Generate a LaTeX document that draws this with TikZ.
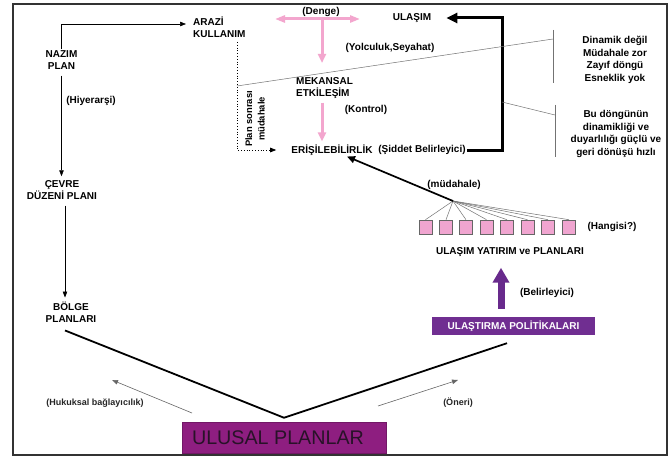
\documentclass[tikz,border=0pt]{standalone}
\usepackage{fontspec}
\setmainfont{Liberation Sans}
\usetikzlibrary{arrows.meta}
\definecolor{pinkA}{RGB}{243,166,206}
\definecolor{boxpink}{RGB}{240,165,208}
\definecolor{purpA}{RGB}{104,42,140}
\definecolor{polfill}{RGB}{112,46,145}
\definecolor{ulfill}{RGB}{142,30,128}
\definecolor{ultext}{RGB}{40,18,40}
\tikzset{
  lbl/.style={font=\bfseries\fontsize{10}{12}\selectfont, inner sep=1pt, align=center},
  smalllbl/.style={font=\bfseries\fontsize{9}{10}\selectfont, inner sep=1pt, text=black!85},
  pbox/.style={draw=black!60, fill=boxpink, minimum width=13pt, minimum height=14pt, inner sep=0pt, line width=0.6pt},
  polbox/.style={fill=polfill, text=white, font=\bfseries\fontsize{10}{12}\selectfont, minimum width=163pt, minimum height=18pt, inner sep=0pt},
  ulbox/.style={fill=ulfill, draw=ulfill!80!black, line width=0.5pt, text=ultext, font=\fontsize{19.7}{22}\selectfont, minimum width=204pt, minimum height=31pt, inner sep=0pt},
  thinarrow/.style={line width=0.6pt, -{Triangle[length=6pt,width=4.5pt]}},
  pinkarrow/.style={draw=pinkA, line width=3pt, -{Triangle[length=9pt,width=8pt]}},
  heavy/.style={line width=3pt, -{Triangle[length=11pt,width=10pt]}},
  grayline/.style={draw=black!55, line width=0.5pt},
}
\begin{document}
\begin{tikzpicture}[x=1pt,y=-1pt]
\useasboundingbox (0,0) rectangle (670,460);
\fill[white] (0,0) rectangle (670,460);
\draw[line width=1.8pt, black!80] (13,4) rectangle (667,455);

% left column
\node[lbl] (nazim) at (61.5,60) {NAZIM\\PLAN};
\node[lbl, align=left, anchor=west] (arazi) at (192,27) {ARAZİ\\KULLANIM};
\node[lbl] (hiy) at (91,101) {(Hiyerarşi)};
\node[lbl] (cevre) at (62,190) {ÇEVRE\\DÜZENİ PLANI};
\node[lbl] (bolge) at (71,312) {BÖLGE\\PLANLARI};

\draw[thinarrow, shorten >=6pt] (nazim.north) |- ([yshift=3pt]arazi.west);
\draw[thinarrow, shorten <=5pt, shorten >=3pt] (nazim.south) -- (nazim.south |- cevre.north);
\draw[thinarrow, shorten <=5pt, shorten >=3pt] ([xshift=3pt]cevre.south) -- ([xshift=-6pt]bolge.north);

% central loop
\node[lbl] (denge) at (321,12) {(Denge)};
\node[lbl] (ulasim) at (412,18) {ULAŞIM};
\node[lbl] (yolc) at (390,48) {(Yolculuk,Seyahat)};
\node[lbl, align=left, anchor=west] (mek) at (295,88) {MEKANSAL\\ETKİLEŞİM};
\node[lbl] (kontrol) at (366,110) {(Kontrol)};
\node[lbl] (eris) at (332,150) {ERİŞİLEBİLİRLİK};
\node[lbl] (siddet) at (422,150) {(Şiddet Belirleyici)};
\node[lbl, rotate=90, font=\bfseries\fontsize{9.4}{12.5}\selectfont] (plan) at (255,119) {Plan sonrası\\müdahale};

\coordinate (dL) at (275,19);
\coordinate (dR) at (360,19);
\coordinate (dC) at (322,19);
\coordinate (dB) at (322,63);
\draw[draw=pinkA, line width=3pt, {Triangle[length=10pt,width=7pt]}-{Triangle[length=10pt,width=7pt]}] (dL) -- (dR);
\draw[pinkarrow] (dC) -- (dB);
\draw[pinkarrow, shorten <=3pt, shorten >=2pt] (mek.south -| dC) -- (eris.north -| dC);

\coordinate (dtop) at (237,42);
\draw[dotted, line width=0.8pt, -{Triangle[length=6pt,width=4.5pt]}, shorten >=14pt] (dtop) |- (eris.west);

\draw[heavy, shorten >=14pt] (siddet.east) -- (502,150) |- (ulasim.east);

% side notes
\node[lbl, font=\bfseries\fontsize{10}{12.7}\selectfont] (din) at (615,60) {Dinamik değil\\Müdahale zor\\Zayıf döngü\\Esneklik yok};
\node[lbl, font=\bfseries\fontsize{10}{12.7}\selectfont] (bu) at (616,134) {Bu döngünün\\dinamikliği ve\\duyarlılığı güçlü ve\\geri dönüşü hızlı};
\coordinate (ya) at (237,86);
\coordinate (yb) at (553,39);
\coordinate (bar1t) at (553,30);
\coordinate (bar1b) at (553,83);
\draw[grayline] (ya) -- (yb);
\draw[grayline] (bar1t) -- (bar1b);
\coordinate (za) at (502,102);
\coordinate (zb) at (555,115);
\coordinate (bar2t) at (555,105);
\coordinate (bar2b) at (555,157);
\draw[grayline] (za) -- (zb);
\draw[grayline] (bar2t) -- (bar2b);

% investments
\node[lbl] (mud) at (454,185) {(müdahale)};
\coordinate (fan) at (453,201);
\foreach \i/\x in {1/425.5,2/446,3/466,4/486.5,5/507,6/527.5,7/548,8/569}{
  \node[pbox] (b\i) at (\x,227) {};
  \draw[grayline] (fan) -- (b\i.north);
}
\draw[line width=1.7pt, -{Triangle[length=8pt,width=7pt]}] (fan) -- ([xshift=15pt]eris.south);
\node[lbl] (hang) at (612,227) {(Hangisi?)};
\node[lbl] (uyp) at (510,252) {ULAŞIM YATIRIM ve PLANLARI};
\node[lbl] (bel) at (547,293) {(Belirleyici)};
\node[polbox] (pol) at (513.5,326) {ULAŞTIRMA POLİTİKALARI};
\draw[draw=purpA, line width=7pt, -{Triangle[length=15pt,width=16pt]}, shorten <=8pt, shorten >=10pt] ([xshift=-12.5pt]pol.north) -- ([xshift=-9pt]uyp.south);

% national plans
\node[ulbox] (ul) at (284,437.5) {ULUSAL PLANLAR\hspace*{12pt}};
\draw[line width=1.8pt] ([shift={(-6pt,-7pt)}]bolge.south) -- ([yshift=4pt]ul.north) -- ([shift={(-6.5pt,-8pt)}]pol.south);

\node[smalllbl] (huk) at (95,403) {(Hukuksal bağlayıcılık)};
\node[smalllbl] (oner) at (458,403) {(Öneri)};
\coordinate (h1) at (192,413);
\coordinate (h2) at (112,380);
\coordinate (o1) at (378,406);
\coordinate (o2) at (458,380);
\draw[thinarrow, black!60] (h1) -- (h2);
\draw[thinarrow, black!60] (o1) -- (o2);
\end{tikzpicture}
\end{document}
